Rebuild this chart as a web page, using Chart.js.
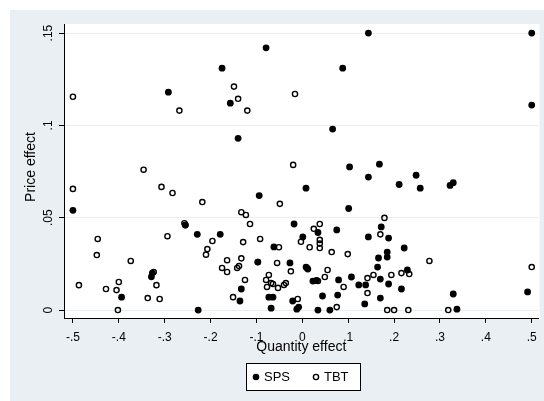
<!DOCTYPE html>
<html>
<head>
<meta charset="utf-8">
<script src="https://cdn.jsdelivr.net/npm/chart.js@4/dist/chart.umd.min.js"></script>
<style>
  body { margin: 0; background: #ffffff; }
  canvas { display: block; }
</style>
</head>
<body>
<canvas id="grafico" width="544" height="401"></canvas>
<script>
// valores (quantity effect, price effect)
const spsX = [0.5, 0.144, -0.079, -0.175, 0.088, -0.292, -0.157, 0.5, -0.14, 0.066,
    0.103, 0.168, 0.144, 0.008, 0.211, 0.248, 0.257, 0.322, 0.329, -0.5,
    -0.094, 0.101, -0.229, -0.179, -0.329, -0.327, -0.394, -0.227, -0.255, -0.018,
    0.034, 0.075, 0.001, 0.144, 0.172, 0.188, 0.222, 0.185, 0.185, 0.166,
    -0.027, -0.062, 0.012, 0.164, 0.229, 0.107, 0.079, 0.023, 0.123, 0.138,
    0.17, 0.188, 0.216, 0.329, 0.491, 0.044, 0.077, -0.021, 0.17, 0.136,
    -0.012, -0.008, 0.034, 0.06, 0.337, -0.068, -0.064, -0.097, -0.133, -0.136,
    -0.073, 0.01, 0.031];
const spsY = [0.150, 0.150, 0.142, 0.131, 0.131, 0.118, 0.112, 0.111, 0.093, 0.098,
    0.0775, 0.079, 0.072, 0.066, 0.068, 0.073, 0.066, 0.0675, 0.069, 0.054,
    0.062, 0.055, 0.041, 0.041, 0.018, 0.020, 0.007, 0.0, 0.046, 0.0466,
    0.042, 0.0434, 0.0396, 0.0396, 0.045, 0.039, 0.0336, 0.0314, 0.0287, 0.0282,
    0.0255, 0.0342, 0.0222, 0.0233, 0.0217, 0.0179, 0.0163, 0.0157, 0.0136, 0.0136,
    0.0168, 0.0141, 0.0114, 0.0087, 0.0098, 0.0076, 0.0081, 0.0049, 0.0065, 0.0033,
    0.0005, 0.0016, 0.0, 0.0, 0.0005, 0.001, 0.007, 0.026, 0.0114, 0.0049,
    0.007, 0.0228, 0.016];

const tbtX = [-0.5, -0.268, -0.149, -0.14, -0.12, -0.346, -0.5, -0.307, -0.283, -0.016,
    -0.02, -0.218, -0.257, -0.049, -0.133, -0.123, -0.114, -0.255, -0.446, -0.448,
    -0.294, -0.374, -0.196, -0.207, -0.21, -0.175, -0.487, -0.428, -0.405, -0.40,
    -0.324, -0.318, -0.337, -0.311, -0.402, 0.025, 0.038, -0.051, -0.003, 0.016,
    0.038, 0.038, 0.038, 0.064, 0.099, 0.179, 0.17, 0.277, 0.5, -0.055,
    0.008, -0.025, 0.055, 0.049, 0.034, 0.09, 0.142, 0.155, 0.142, 0.194,
    0.216, 0.233, -0.04, -0.053, -0.068, -0.01, 0.075, 0.185, 0.2, 0.231,
    0.318, -0.129, -0.092, -0.164, -0.133, -0.164, -0.142, -0.138, -0.097, -0.125,
    -0.151, -0.073, -0.079, -0.077, -0.064, -0.036];
const tbtY = [0.1155, 0.108, 0.121, 0.1144, 0.108, 0.076, 0.0656, 0.0667, 0.0634, 0.117,
    0.0786, 0.0585, 0.047, 0.0575, 0.053, 0.0515, 0.0466, 0.046, 0.0385, 0.0298,
    0.040, 0.0266, 0.0374, 0.033, 0.030, 0.0228, 0.0135, 0.0114, 0.0108, 0.0152,
    0.0206, 0.0135, 0.0065, 0.006, 0.0, 0.044, 0.0466, 0.034, 0.037, 0.034,
    0.038, 0.036, 0.0336, 0.0314, 0.0303, 0.0499, 0.041, 0.0266, 0.0233, 0.0255,
    0.0233, 0.021, 0.0217, 0.0179, 0.0157, 0.0125, 0.0173, 0.019, 0.0092, 0.019,
    0.020, 0.0195, 0.0136, 0.012, 0.0146, 0.006, 0.0016, 0.0, 0.0, 0.0,
    0.0, 0.0368, 0.0385, 0.027, 0.028, 0.0206, 0.0228, 0.0238, 0.026, 0.0163,
    0.007, 0.019, 0.0163, 0.0125, 0.0141, 0.0146];

const ticksX = [-0.5, -0.4, -0.3, -0.2, -0.1, 0, 0.1, 0.2, 0.3, 0.4, 0.5];
const ticksY = [0, 0.05, 0.1, 0.15];

const fundoCinza = '#e9eff2';
const fonte = '"Liberation Sans", Arial, sans-serif';

function formatar(v) {
    return String(Math.round(v * 100) / 100).replace('0.', '.');
}

function pontos(xs, ys) {
    return xs.map((x, i) => ({ x: x, y: ys[i] }));
}

const fundo = {
    id: 'fundo',
    beforeDraw(chart) {
        const ctx = chart.ctx;
        const a = chart.chartArea;
        ctx.save();
        ctx.fillStyle = fundoCinza;
        ctx.fillRect(10, 10, 534, 391);
        ctx.fillStyle = '#ffffff';
        ctx.fillRect(a.left, a.top, a.right - a.left + 1, a.bottom - a.top);
        ctx.restore();
    },
    afterDraw(chart) {
        const ctx = chart.ctx;
        const y = chart.scales.y;
        const a = chart.chartArea;
        ctx.save();
        ctx.fillStyle = '#000000';
        ctx.font = '12px ' + fonte;
        ctx.textAlign = 'center';
        ctx.textBaseline = 'middle';
        // rótulos do eixo y na vertical
        ticksY.forEach(v => {
            ctx.save();
            ctx.translate(49, y.getPixelForValue(v));
            ctx.rotate(-Math.PI / 2);
            ctx.fillText(formatar(v), 0, 0);
            ctx.restore();
        });
        // títulos dos eixos
        ctx.font = '14px ' + fonte;
        ctx.save();
        ctx.translate(31, 167);
        ctx.rotate(-Math.PI / 2);
        ctx.fillText('Price effect', 0, 0);
        ctx.restore();
        ctx.fillText('Quantity effect', (a.left + a.right) / 2, 347);

        // legenda
        ctx.fillStyle = '#ffffff';
        ctx.fillRect(246, 363, 114, 27);
        ctx.strokeStyle = '#000000';
        ctx.lineWidth = 1;
        ctx.strokeRect(246.5, 363.5, 114, 27);
        ctx.fillStyle = '#000000';
        ctx.beginPath();
        ctx.arc(256, 377, 3.3, 0, Math.PI * 2);
        ctx.fill();
        ctx.beginPath();
        ctx.lineWidth = 1.4;
        ctx.arc(316, 377, 2.6, 0, Math.PI * 2);
        ctx.stroke();
        ctx.font = '13px ' + fonte;
        ctx.textAlign = 'left';
        ctx.fillText('SPS', 264, 377);
        ctx.fillText('TBT', 324, 377);
        ctx.restore();
    }
};

const config = {
    type: 'scatter',
    data: {
        datasets: [{
                label: 'SPS',
                data: pontos(spsX, spsY),
                backgroundColor: '#000000',
                borderColor: '#000000',
                borderWidth: 0,
                pointRadius: 3.4
            },
            {
                label: 'TBT',
                data: pontos(tbtX, tbtY),
                backgroundColor: 'rgba(0,0,0,0)',
                borderColor: '#000000',
                borderWidth: 1.4,
                pointRadius: 2.6
            }
        ]
    },
    options: {
        responsive: false,
        animation: false,
        devicePixelRatio: 1,
        layout: {
            padding: { left: 0, top: 24, right: 3, bottom: 0 }
        },
        plugins: {
            legend: { display: false },
            tooltip: { enabled: false }
        },
        scales: {
            x: {
                type: 'linear',
                min: -0.5195,
                max: 0.515,
                afterBuildTicks: s => { s.ticks = ticksX.map(v => ({ value: v })); },
                afterFit: s => { s.height = 83; },
                border: { color: '#000000', width: 1 },
                grid: {
                    drawOnChartArea: false,
                    drawTicks: true,
                    tickLength: 5,
                    tickColor: '#000000'
                },
                ticks: {
                    autoSkip: false,
                    maxRotation: 0,
                    padding: 7,
                    color: '#000000',
                    font: { family: fonte, size: 12 },
                    callback: v => formatar(v)
                }
            },
            y: {
                type: 'linear',
                min: -0.0043,
                max: 0.1549,
                afterBuildTicks: s => { s.ticks = ticksY.map(v => ({ value: v })); },
                afterFit: s => { s.width = 64; },
                border: { color: '#000000', width: 1 },
                grid: {
                    color: '#e6eef1',
                    drawTicks: true,
                    tickLength: 5,
                    tickColor: '#000000'
                },
                ticks: { display: false }
            }
        }
    },
    plugins: [fundo]
};

const grafico = new Chart(document.getElementById('grafico'), config);
</script>
</body>
</html>
